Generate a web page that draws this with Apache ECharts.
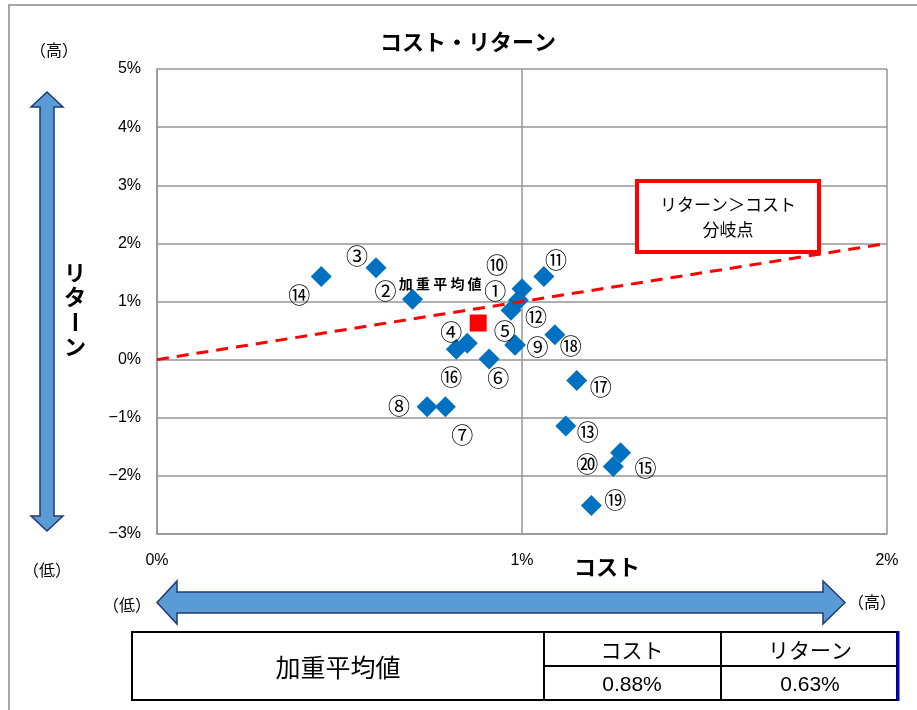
<!DOCTYPE html>
<html>
<head>
<meta charset="utf-8">
<script src="https://cdn.jsdelivr.net/npm/echarts@6/dist/echarts.min.js"></script>
<style>
  html, body { margin: 0; padding: 0; background: #fff; }
  #chart { width: 917px; height: 710px; }
</style>
</head>
<body>
<div id="chart"></div>
<script>
// Fund labels (circled numbers) with cost (%) and return (%) for each fund
const fundNames = ['①','②','③','④','⑤','⑥','⑦','⑧','⑨','⑩','⑪','⑫','⑬','⑭','⑮','⑯','⑰','⑱','⑲','⑳'];
const fundCosts = [0.99, 0.70, 0.60, 0.85, 0.98, 0.91, 0.79, 0.74, 0.982, 1.00, 1.06, 0.97, 1.12, 0.45, 1.27, 0.82, 1.15, 1.09, 1.19, 1.25];
const fundReturns = [1.02, 1.04, 1.58, 0.28, 0.25, 0.01, -0.81, -0.81, 0.25, 1.22, 1.43, 0.85, -1.14, 1.43, -1.60, 0.18, -0.36, 0.43, -2.51, -1.84];

// Weighted average of the portfolio
const avgCost = 0.88;
const avgReturn = 0.63;

// Break-even line: return equals cost
const breakEvenLine = [[0, 0], [2, 2]];

// Axis ranges and ticks
const xTicks = [0, 1, 2];
const yMin = -3, yMax = 5;

// Where each circled number sits relative to its marker (pixels)
const labelOffsets = [
  [-23, -10], [-27, -9], [-19, -12], [-16, -12], [-10, -14],
  [9, 19], [17, 28], [-28, -1], [22, 2], [-25, -24],
  [12, -17], [25, 6], [22, 6], [-22, 18], [25, 15],
  [-5, 27], [24, 6], [16, 11], [24, -6], [-26, -3]
];

const JP = '"Noto Sans CJK JP", "Noto Sans", sans-serif';
const NARROW = '"Liberation Sans Narrow", "Liberation Sans", Arial, sans-serif';

const chart = echarts.init(document.getElementById('chart'), null, { renderer: 'canvas' });

const fundData = fundNames.map((n, i) => ({
  name: n,
  value: [fundCosts[i], fundReturns[i]],
  label: { offset: labelOffsets[i] }
}));

const pct = v => String(v).replace('-', '\u2212') + '%';

const arrowFill = '#5B9BD5';
const arrowStroke = '#1F3B73';

const option = {
  animation: false,
  backgroundColor: '#fff',
  grid: { left: 157, right: 30, top: 69, bottom: 176 },
  xAxis: {
    type: 'value',
    min: xTicks[0], max: xTicks[xTicks.length - 1], interval: 1,
    axisLine: { onZero: false, lineStyle: { color: '#969696', width: 1.5 } },
    axisTick: { show: false },
    splitLine: { show: true, lineStyle: { color: '#969696', width: 1.5 } },
    axisLabel: {
      formatter: pct, margin: 19,
      fontFamily: NARROW, fontSize: 16, color: '#000'
    }
  },
  yAxis: {
    type: 'value',
    min: yMin, max: yMax, interval: 1,
    axisLine: { show: true, onZero: false, lineStyle: { color: '#969696', width: 1.5 } },
    axisTick: { show: false },
    splitLine: { show: true, lineStyle: { color: '#969696', width: 1.5 } },
    axisLabel: {
      formatter: pct, margin: 16,
      fontFamily: NARROW, fontSize: 16, color: '#000'
    }
  },
  series: [
    {
      name: 'funds',
      type: 'scatter',
      symbol: 'diamond',
      symbolSize: 21,
      itemStyle: { color: '#0070C0', opacity: 1 },
      z: 2,
      label: {
        show: true,
        position: 'inside',
        formatter: '{b}',
        fontFamily: JP,
        fontSize: 22,
        color: '#000'
      },
      data: fundData
    },
    {
      name: '加重平均値',
      type: 'scatter',
      symbol: 'rect',
      symbolSize: 17,
      itemStyle: { color: '#FF0000', opacity: 1 },
      z: 3,
      label: {
        show: true,
        position: 'inside',
        offset: [-38, -39],
        formatter: '加 重 平 均 値',
        fontFamily: JP,
        fontWeight: 'bold',
        fontSize: 14,
        color: '#000'
      },
      data: [[avgCost, avgReturn]]
    },
    {
      name: 'break-even',
      type: 'line',
      symbol: 'none',
      z: 4,
      lineStyle: { color: '#FF0000', width: 3, type: [12, 8] },
      data: breakEvenLine
    }
  ],
  graphic: [
    // outer frame
    { type: 'rect', shape: { x: 9, y: 5, width: 920, height: 720 },
      style: { fill: 'none', stroke: '#A6A6A6', lineWidth: 2 }, z: 0 },
    // title
    { type: 'text', x: 468, y: 42,
      style: { text: 'コスト・リターン', font: 'bold 22px ' + JP, fill: '#000', align: 'center', verticalAlign: 'middle' } },
    // vertical double arrow (return)
    { type: 'polygon',
      shape: { points: [[47, 92], [63, 107], [54, 107], [54, 516], [63, 516], [47, 531], [31, 516], [40, 516], [40, 107], [31, 107]] },
      style: { fill: arrowFill, stroke: arrowStroke, lineWidth: 1.5 } },
    // horizontal double arrow (cost)
    { type: 'polygon',
      shape: { points: [[157, 602.5], [177, 581], [177, 592], [823, 592], [823, 581], [845, 602.5], [823, 624], [823, 613], [177, 613], [177, 624]] },
      style: { fill: arrowFill, stroke: arrowStroke, lineWidth: 1.5 } },
    // high / low markers
    { type: 'text', x: 54, y: 50, style: { text: '（高）', font: '16px ' + JP, fill: '#000', align: 'center', verticalAlign: 'middle' } },
    { type: 'text', x: 47, y: 570, style: { text: '（低）', font: '16px ' + JP, fill: '#000', align: 'center', verticalAlign: 'middle' } },
    { type: 'text', x: 127, y: 605, style: { text: '（低）', font: '16px ' + JP, fill: '#000', align: 'center', verticalAlign: 'middle' } },
    { type: 'text', x: 872, y: 602, style: { text: '（高）', font: '16px ' + JP, fill: '#000', align: 'center', verticalAlign: 'middle' } },
    // axis names
    { type: 'text', x: 607, y: 567, style: { text: 'コスト', font: 'bold 22px ' + JP, fill: '#000', align: 'center', verticalAlign: 'middle' } },
    { type: 'text', x: 75, y: 273, style: { text: 'リ', font: 'bold 22px ' + JP, fill: '#000', align: 'center', verticalAlign: 'middle' } },
    { type: 'text', x: 75, y: 297, style: { text: 'タ', font: 'bold 22px ' + JP, fill: '#000', align: 'center', verticalAlign: 'middle' } },
    { type: 'text', x: 75, y: 322, rotation: -Math.PI / 2,
      style: { text: 'ー', font: 'bold 22px ' + JP, fill: '#000', align: 'center', verticalAlign: 'middle' } },
    { type: 'text', x: 75, y: 347, style: { text: 'ン', font: 'bold 22px ' + JP, fill: '#000', align: 'center', verticalAlign: 'middle' } },
    // break-even note
    { type: 'rect', shape: { x: 637, y: 181, width: 182, height: 71 },
      style: { fill: '#fff', stroke: '#FF0000', lineWidth: 4 }, z: 10 },
    { type: 'text', x: 728, y: 205, z: 11,
      style: { text: 'リターン＞コスト', font: '17px ' + JP, fill: '#000', align: 'center', verticalAlign: 'middle' } },
    { type: 'text', x: 728, y: 230, z: 11,
      style: { text: '分岐点', font: '17px ' + JP, fill: '#000', align: 'center', verticalAlign: 'middle' } },
    // weighted average table
    { type: 'rect', shape: { x: 132, y: 632, width: 765, height: 68 },
      style: { fill: '#fff', stroke: '#000', lineWidth: 2 } },
    { type: 'line', shape: { x1: 544, y1: 632, x2: 544, y2: 700 }, style: { stroke: '#000', lineWidth: 2 } },
    { type: 'line', shape: { x1: 721, y1: 632, x2: 721, y2: 700 }, style: { stroke: '#000', lineWidth: 2 } },
    { type: 'line', shape: { x1: 544, y1: 666, x2: 897, y2: 666 }, style: { stroke: '#000', lineWidth: 2 } },
    { type: 'line', shape: { x1: 898, y1: 631, x2: 898, y2: 701 }, style: { stroke: '#0000CC', lineWidth: 3 } },
    { type: 'text', x: 338, y: 667, style: { text: '加重平均値', font: '25px ' + JP, fill: '#000', align: 'center', verticalAlign: 'middle' } },
    { type: 'text', x: 632, y: 650, style: { text: 'コスト', font: '21px ' + JP, fill: '#000', align: 'center', verticalAlign: 'middle' } },
    { type: 'text', x: 810, y: 650, style: { text: 'リターン', font: '21px ' + JP, fill: '#000', align: 'center', verticalAlign: 'middle' } },
    { type: 'text', x: 632, y: 685, style: { text: avgCost.toFixed(2) + '%', font: '21px ' + NARROW, fill: '#000', align: 'center', verticalAlign: 'middle' } },
    { type: 'text', x: 810, y: 685, style: { text: avgReturn.toFixed(2) + '%', font: '21px ' + NARROW, fill: '#000', align: 'center', verticalAlign: 'middle' } }
  ]
};

chart.setOption(option);
</script>
</body>
</html>
